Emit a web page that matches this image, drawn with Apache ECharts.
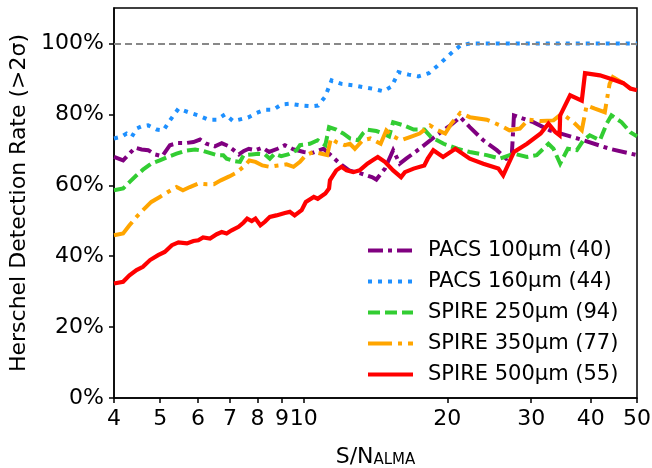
<!DOCTYPE html>
<html>
<head>
<meta charset="utf-8">
<script src="https://cdn.jsdelivr.net/npm/echarts@6/dist/echarts.min.js"></script>
<style>html,body{margin:0;padding:0;background:#fff}#c{width:652px;height:468px}</style>
</head>
<body>
<div id="c"></div>
<script>
const xTicks = [4, 5, 6, 7, 8, 9, 10, 20, 30, 40, 50];
const yTicks = [0, 20, 40, 60, 80, 100];
const seriesNames = ['PACS 100μm (40)', 'PACS 160μm (44)', 'SPIRE 250μm (94)', 'SPIRE 350μm (77)', 'SPIRE 500μm (55)'];

const pacs100 = [[4.0,68.0],[4.18,67.0],[4.28,68.5],[4.43,70.6],[4.57,70.1],[4.72,69.9],[4.88,68.7],[5.05,68.2],[5.24,71.3],[5.44,71.9],[5.65,71.9],[5.87,72.2],[6.06,72.9],[6.25,71.7],[6.51,71.0],[6.73,71.9],[6.96,71.0],[7.13,69.9],[7.31,68.7],[7.49,69.7],[7.67,70.3],[7.92,69.9],[8.19,70.6],[8.46,69.4],[8.81,70.3],[9.13,71.3],[9.52,70.1],[10.0,69.4],[10.4,69.1],[11.0,70.3],[11.5,68.0],[11.9,66.1],[12.45,64.2],[13.2,63.3],[13.9,62.3],[14.2,61.6],[14.8,64.7],[15.4,69.9],[15.9,66.1],[16.4,67.5],[17.5,70.3],[19.0,74.1],[20.3,76.9],[21.3,79.2],[22.3,76.4],[23.8,72.7],[25.4,69.9],[26.6,67.5],[27.3,68.0],[27.6,79.7],[30.3,77.8],[32.8,75.5],[38.6,72.7],[43.8,70.3],[50,68.5]];

const pacs160 = [[4.0,73.2],[4.15,73.7],[4.25,74.6],[4.36,73.7],[4.46,76.0],[4.57,76.6],[4.72,76.9],[4.92,75.7],[5.08,75.5],[5.24,78.3],[5.46,81.6],[5.73,80.6],[6.01,79.7],[6.31,78.5],[6.57,78.5],[6.84,80.0],[7.11,78.1],[7.47,78.8],[7.64,79.1],[7.97,80.4],[8.29,81.3],[8.63,81.3],[8.99,82.8],[9.35,83.0],[9.90,82.5],[10.39,82.3],[10.72,82.5],[11.08,84.9],[11.44,89.6],[12.0,88.6],[12.7,88.2],[13.3,87.7],[14.0,87.2],[14.7,86.5],[15.3,87.9],[15.8,91.9],[16.6,91.2],[17.4,90.7],[18.3,91.6],[19.3,94.3],[20.4,97.3],[21.3,99.4],[22.3,100],[50,100]];

const spire250 = [[4.0,58.6],[4.18,59.1],[4.31,60.9],[4.46,62.8],[4.60,64.4],[4.79,66.1],[4.99,67.0],[5.19,68.0],[5.41,68.9],[5.63,69.7],[5.92,70.1],[6.15,69.7],[6.42,68.9],[6.57,68.5],[6.78,68.5],[6.89,67.5],[7.17,66.8],[7.35,66.6],[7.48,68.5],[7.78,68.7],[8.03,68.9],[8.29,68.7],[8.49,67.5],[8.69,68.9],[8.97,68.2],[9.27,68.7],[9.66,69.9],[9.82,71.3],[10.3,71.7],[10.7,72.7],[11.1,71.3],[11.3,76.4],[11.7,75.7],[12.1,74.6],[12.5,73.2],[13.0,72.7],[13.3,74.6],[13.6,75.7],[14.2,75.3],[14.7,74.6],[15.1,73.8],[15.4,77.8],[16.2,76.9],[17.0,75.7],[17.9,75.7],[18.5,73.6],[19.65,71.7],[21.0,70.3],[22.3,69.4],[24.2,68.5],[25.8,67.5],[27.6,68.9],[29.4,68.0],[30.8,68.5],[32.6,71.7],[33.4,70.3],[34.5,66.1],[35.8,70.3],[37.4,69.9],[38.6,72.7],[39.8,74.1],[41.8,72.7],[43.2,77.4],[44.2,79.7],[46.4,77.8],[48.4,75.0],[50,73.8]];

const spire350 = [[4.0,45.9],[4.18,46.4],[4.31,48.7],[4.46,51.1],[4.60,53.0],[4.79,55.3],[4.99,56.7],[5.19,58.1],[5.41,59.5],[5.58,58.6],[5.77,59.5],[6.01,60.5],[6.27,60.3],[6.48,60.3],[6.70,61.4],[6.98,62.5],[7.17,63.3],[7.35,64.4],[7.53,65.6],[7.69,67.0],[7.92,66.6],[8.19,65.6],[8.49,65.2],[8.84,65.6],[9.20,65.9],[9.52,65.2],[9.82,66.6],[10.1,68.5],[10.5,69.4],[10.9,68.9],[11.2,68.5],[11.4,73.2],[11.7,72.2],[12.2,71.3],[12.5,71.7],[12.8,70.3],[13.3,72.7],[13.8,73.2],[14.5,71.7],[14.9,75.5],[15.4,73.8],[16.0,72.7],[16.7,73.6],[17.5,74.6],[18.4,76.9],[19.1,75.5],[19.8,74.6],[20.4,77.4],[21.3,80.4],[22.3,79.2],[24.2,78.5],[25.8,76.9],[27.0,75.5],[28.4,76.0],[29.6,78.5],[31.4,78.1],[33.4,78.3],[34.8,80.2],[36.8,77.8],[38.3,75.5],[39.2,82.5],[40.8,81.6],[42.8,80.6],[43.8,88.6],[44.5,90.5],[46.8,88.8],[48.4,87.3],[50,86.8]];

const spire500 = [[4.0,32.3],[4.18,32.8],[4.31,34.6],[4.46,36.1],[4.60,37.0],[4.76,38.9],[4.95,40.3],[5.11,41.2],[5.29,43.1],[5.46,43.9],[5.69,43.6],[5.87,44.3],[6.01,44.5],[6.15,45.3],[6.36,45.0],[6.57,46.2],[6.73,46.8],[6.89,46.4],[7.06,47.3],[7.30,48.3],[7.48,49.5],[7.61,50.6],[7.78,49.9],[7.92,50.6],[8.11,48.7],[8.29,49.7],[8.49,51.1],[8.76,51.5],[9.13,52.2],[9.35,52.5],[9.57,51.5],[9.90,53.0],[10.1,55.3],[10.5,56.7],[10.7,56.2],[11.1,57.7],[11.3,59.1],[11.35,61.4],[11.7,64.2],[12.0,65.2],[12.3,64.2],[12.7,63.7],[13.1,64.2],[13.6,66.1],[14.0,67.2],[14.3,68.0],[14.8,66.6],[15.4,64.2],[16.0,62.3],[16.3,63.7],[17.0,64.7],[17.9,65.6],[18.2,67.5],[18.7,69.9],[19.6,68.0],[20.8,70.3],[22.3,67.5],[23.8,66.1],[25.6,64.7],[26.2,62.8],[27.6,69.4],[29.4,71.7],[31.4,74.6],[32.6,77.4],[33.7,75.0],[34.4,74.1],[34.5,79.7],[36.2,85.4],[38.3,83.9],[38.9,91.6],[41.8,91.0],[44.5,89.8],[46.8,88.8],[48.4,87.3],[50,86.8]];

const FONT = 'DejaVu Sans';
const colors = ['#800080', '#1E90FF', '#32CD32', '#FFA500', '#FF0000'];
const dashes = [[15,5,4,5], [4,6], [12,5], [24,6,4,6], 'solid'];
const dataSets = [pacs100, pacs160, spire250, spire350, spire500];

const series = dataSets.map((d, i) => ({
  name: seriesNames[i],
  type: 'line',
  data: d,
  symbol: 'none',
  showSymbol: false,
  smooth: false,
  animation: false,
  lineStyle: { color: colors[i], width: i === 4 ? 4.2 : 4, type: dashes[i], cap: 'butt', join: 'miter' },
  itemStyle: { color: colors[i] },
  z: 3 + i
}));
series[0].markLine = {
  silent: true, symbol: 'none', animation: false,
  label: { show: false },
  lineStyle: { color: '#888', type: [7, 4], width: 1.8 },
  data: [{ yAxis: 100 }]
};

const chart = echarts.init(document.getElementById('c'), null, { renderer: 'canvas' });
chart.setOption({
  animation: false,
  grid: { left: 114, right: 15, top: 8, bottom: 70, containLabel: false, outerBoundsMode: 'none', show: true, borderColor: '#000', borderWidth: 1.5, backgroundColor: 'transparent' },
  xAxis: {
    type: 'log', logBase: 10, min: 4, max: 50,
    name: '{a|S/N}{b|ALMA}', nameLocation: 'middle', nameGap: 44,
    nameTextStyle: { rich: {
      a: { fontFamily: FONT, fontSize: 22, color: '#000', verticalAlign: 'bottom', lineHeight: 26 },
      b: { fontFamily: FONT, fontSize: 15, color: '#000', verticalAlign: 'bottom', lineHeight: 26, padding: [8, 0, 0, 0] }
    } },
    axisLine: { show: true, lineStyle: { color: '#000', width: 1.5 } },
    axisTick: { show: true, length: 5, inside: false, lineStyle: { color: '#000', width: 1.5 }, customValues: xTicks },
    minorTick: { show: false },
    axisLabel: { fontFamily: FONT, fontSize: 22, color: '#000', margin: 10, customValues: xTicks, hideOverlap: false, formatter: v => String(Math.round(v)) },
    splitLine: { show: false }
  },
  yAxis: {
    type: 'value', min: 0, max: 110,
    name: 'Herschel Detection Rate (>2σ)', nameLocation: 'middle', nameGap: 80,
    nameTextStyle: { fontFamily: FONT, fontSize: 22, color: '#000' },
    axisLine: { show: true, lineStyle: { color: '#000', width: 1.5 } },
    axisTick: { show: true, length: 5, lineStyle: { color: '#000', width: 1.5 }, customValues: yTicks },
    axisLabel: { fontFamily: FONT, fontSize: 22, color: '#000', margin: 10, customValues: yTicks, formatter: '{value}%' },
    splitLine: { show: false }
  },
  legend: {
    orient: 'vertical', left: 361, top: 234,
    itemWidth: 45, itemHeight: 14, itemGap: 8,
    itemStyle: { opacity: 0 },
    lineStyle: { width: 4 },
    textStyle: { fontFamily: FONT, fontSize: 21, color: '#000', lineHeight: 23, padding: [0, 0, 0, 10] },
    data: seriesNames
  },
  series: series
});
</script>
</body>
</html>
